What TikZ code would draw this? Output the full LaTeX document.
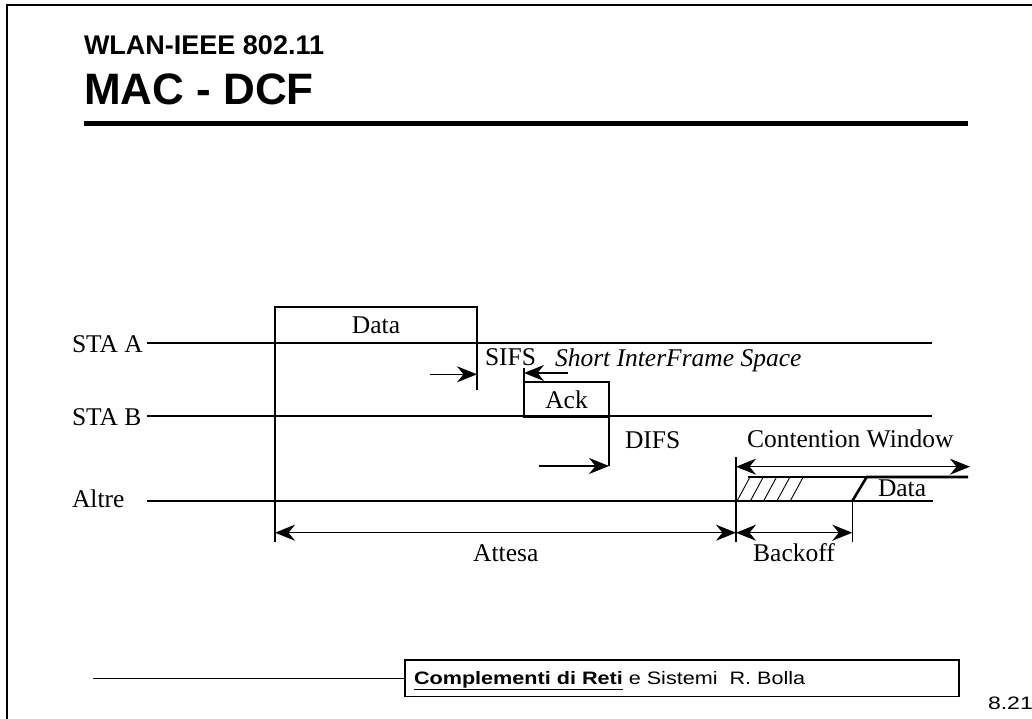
\documentclass[tikz,border=0pt]{standalone}
\usepackage{fontspec}
\usepackage{graphicx}
\setmainfont{Liberation Serif}
\setsansfont{Liberation Sans}
\usetikzlibrary{arrows.meta}

\begin{document}
\begin{tikzpicture}[x=1pt, y=-1pt, line width=1.2pt,
    >={Stealth[length=20pt,width=16pt]},
    every node/.style={inner sep=0pt, outer sep=0pt},
    lbl/.style={font=\fontsize{25.5}{30}\selectfont, anchor=base west},
    slot/.style={draw, line width=2pt, font=\fontsize{25.5}{30}\selectfont},
    foot font/.style={font=\sffamily\fontsize{18}{20}\selectfont, anchor=base west},
    thick line/.style={line width=2.6pt}]
    \useasboundingbox (0,0) rectangle (1032,719);
    \draw[line width=2pt] (7,719) -- (7,5) -- (1032,5);

    % title
    \node[anchor=base west, font=\sffamily\bfseries\fontsize{27}{30}\selectfont] (title1) at (84,55) {WLAN-IEEE 802.11};
    \node[anchor=base west, font=\sffamily\bfseries\fontsize{44}{50}\selectfont] (title2) at (84,104.3) {MAC - DCF};
    \draw[line width=5pt] (84,124) -- (968,124);

    % stations
    \node[lbl](staA) at (72,352) {STA A};
    \node[lbl](staB) at (72,425) {STA B};
    \node[lbl](others) at (72,507) {Altre};
    \coordinate (a0) at (147,343);  \coordinate (a1) at (932,343);
    \coordinate (b0) at (147,416);  \coordinate (b1) at (932,416);
    \coordinate (c0) at (147,501);  \coordinate (c1) at (933,501);
    \draw (a0) -- (a1)  (b0) -- (b1)  (c0) -- (c1);

    \node[slot, minimum width=202pt, minimum height=36pt](dataA) at (376,325) {Data};
    \node[slot, minimum width=85pt, minimum height=35pt](ackB) at (566.5,399.5) {Ack};

    % SIFS
    \coordinate (sifs0) at (477,390);
    \coordinate (sifsL) at (430,374.3);
    \coordinate (sifsR) at (477,374.3);
    \coordinate (ackL) at (524,373);
    \coordinate (ackR) at (568,373);
    \coordinate (ackT) at (524,368);
    \draw (dataA.south east) -- (sifs0);
    \draw[->] (sifsL) -- (sifsR);
    \draw[->] (ackR) -- (ackL);
    \draw (ackT) -- (ackB.north west);
    \node[lbl](sifs) at (485,365) {SIFS};
    \node[lbl, font=\itshape\fontsize{25.5}{30}\selectfont](sifsText) at (555,366) {Short InterFrame Space};

    % DIFS
    \coordinate (difs0) at (609,466);
    \coordinate (difsL) at (539,466);
    \draw (ackB.south east) -- (difs0);
    \draw[->] (difsL) -- (difs0);
    \node[lbl](difs) at (625,448) {DIFS};

    % contention window
    \coordinate (cw0) at (736,457);
    \coordinate (cw1) at (736,541.7);
    \coordinate (cwL) at (736,466.7);
    \coordinate (cwR) at (970,466.7);
    \draw (cw0) -- (cw1);
    \draw[<->] (cwL) -- (cwR);
    \node[lbl](cw) at (747,447) {Contention Window};

    \coordinate (h0) at (748,477);
    \coordinate (h1) at (866.7,477);
    \coordinate (h2) at (968,477);
    \coordinate (s0) at (852.3,501);
    \coordinate (s1) at (852.3,541.7);
    \draw (h0) -- (h1);
    \draw[thick line] (s0) -- (h1) -- (h2);
    \draw (s0) -- (s1);
    \foreach \i in {0,...,4}
        \draw[line width=0.9pt] (737+13.3*\i,501) -- (750+13.3*\i,477);
    \node[lbl](dataO) at (878,496.7) {Data};

    % attesa / backoff
    \coordinate (w0) at (275,541.7);
    \coordinate (wL) at (275,532.7);
    \coordinate (wM) at (736,532.7);
    \coordinate (wR) at (852.3,532.7);
    \draw (dataA.north west) -- (w0);
    \draw[<->] (wL) -- (wM);
    \draw[<->] (wM) -- (wR);
    \node[lbl, anchor=base](wait) at (505.8,561.7) {Attesa};
    \node[lbl, anchor=base](backoff) at (794,561.7) {Backoff};

    % footer
    \node[draw, line width=1.3pt, minimum width=554pt, minimum height=36.5pt](foot) at (682,678.3) {};
    \coordinate (f0) at (93,678.3);
    \draw[line width=1.5pt] (f0) -- (foot.west);
    \node[foot font](footText) at (414,684.5)
        {\scalebox{1.2}[1]{\textbf{\underline{Complementi di Reti}} e Sistemi~~R. Bolla}};
    \node[foot font](page) at (988,709.3) {\scalebox{1.28}[1]{8.21}};
\end{tikzpicture}
\end{document}
